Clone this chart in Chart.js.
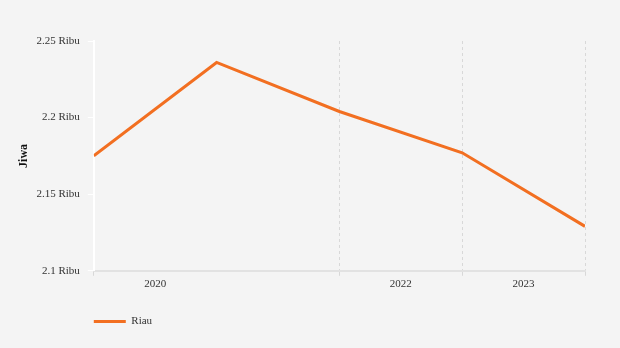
<!DOCTYPE html>
<html>
<head>
<meta charset="utf-8">
<script src="https://cdn.jsdelivr.net/npm/chart.js@4/dist/chart.umd.min.js"></script>
<style>
  body { margin: 0; background: #f4f4f4; }
</style>
</head>
<body>
<canvas id="riauChart" width="620" height="348"></canvas>
<script>
// -------------------
// DATA

const riau = [2175, 2236, 2204, 2177, 2129];
const years = ["2020", "2022", "2023"];
const yearPos = [0.5, 2.5, 3.5];
const gridPos = [0, 2, 3, 4];
const yTicks = [2100, 2150, 2200, 2250];

const orange = "#f26f21";

Chart.defaults.font.family = '"Liberation Serif", "Times New Roman", serif';
Chart.defaults.font.size = 11;
Chart.defaults.color = "#333";

// paint the canvas background
const bgPlugin = {
  id: "bg",
  beforeDraw(chart) {
    const ctx = chart.ctx;
    ctx.save();
    ctx.fillStyle = "#f4f4f4";
    ctx.fillRect(0, 0, chart.width, chart.height);
    ctx.restore();
  },
};

// line the legend up with the left edge of the plot
const legendShift = {
  id: "legendShift",
  afterLayout(chart) {
    const lg = chart.legend;
    lg.left = chart.chartArea.left - lg.options.labels.padding;
  },
};

const gridColor = ctx => (ctx.tick && gridPos.includes(ctx.tick.value) ? "#d8d8d8" : "rgba(0,0,0,0)");

// -------------------
// CHART

const canvasHTML = document.getElementById("riauChart");
const riauChart = new Chart(canvasHTML, {
  type: "line",
  data: {
    datasets: [
      {
        label: "Riau",
        data: riau.map((v, i) => ({ x: i, y: v })),
        borderColor: orange,
        backgroundColor: orange,
        borderWidth: 3,
        pointRadius: 0,
        tension: 0,
      },
    ],
  },
  options: {
    responsive: false,
    animation: false,
    layout: {
      padding: { top: 41, right: 35, left: 12, bottom: 11 },
    },
    plugins: {
      legend: {
        position: "bottom",
        align: "start",
        labels: {
          boxWidth: 32,
          boxHeight: 0,
          padding: 23,
          color: "#333",
        },
      },
      tooltip: { enabled: false },
    },
    scales: {
      x: {
        type: "linear",
        min: 0,
        max: 4,
        afterBuildTicks: axis => {
          axis.ticks = [...gridPos, ...yearPos]
            .sort((a, b) => a - b)
            .map(v => ({ value: v }));
        },
        ticks: {
          autoSkip: false,
          maxRotation: 0,
          padding: 2,
          callback: value => {
            const i = yearPos.indexOf(value);
            return i >= 0 ? years[i] : "";
          },
        },
        grid: {
          color: gridColor,
          tickColor: gridColor,
          tickLength: 5,
        },
        border: { color: "#e2e2e2", width: 2, dash: [3, 3] },
      },
      y: {
        min: 2100,
        max: 2250,
        afterBuildTicks: axis => {
          axis.ticks = yTicks.map(v => ({ value: v }));
        },
        ticks: {
          padding: 8,
          callback: value => value / 1000 + " Ribu",
        },
        grid: {
          drawOnChartArea: false,
          tickColor: "#ffffff",
          tickLength: 6,
        },
        border: { color: "#ffffff", width: 2 },
        title: {
          display: true,
          text: "Jiwa",
          padding: { top: 5, bottom: -3 },
          font: { weight: "bold", size: 12 },
          color: "#111",
        },
      },
    },
  },
  plugins: [bgPlugin, legendShift],
});
</script>
</body>
</html>
